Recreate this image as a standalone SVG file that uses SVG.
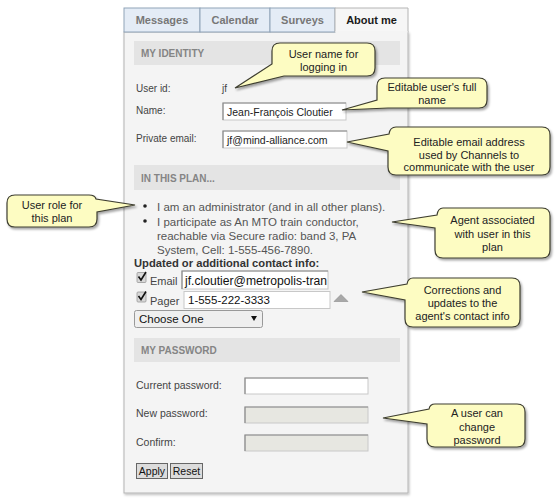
<svg xmlns="http://www.w3.org/2000/svg" width="555" height="500" viewBox="0 0 555 500">
<defs>
<filter id="sh" x="-10%" y="-10%" width="130%" height="140%">
<feDropShadow dx="1.5" dy="2" stdDeviation="1.2" flood-color="#000" flood-opacity="0.35"/>
</filter>
<filter id="psh" x="-5%" y="-5%" width="110%" height="110%">
<feDropShadow dx="1" dy="1.5" stdDeviation="1" flood-color="#000" flood-opacity="0.25"/>
</filter>
</defs>
<style>
text{font-family:"Liberation Sans",Arial,sans-serif}
.tab{fill:#e4ecf6;stroke:#8fa3b8;stroke-width:1}
.tabt{font-size:11px;font-weight:bold;fill:#777;text-anchor:middle}
.hdr{fill:#e4e4e4}
.hdrt{font-size:10px;font-weight:bold;fill:#858585}
.lbl{font-size:10px;fill:#444}
.val{font-size:10.5px;fill:#222}
.inp{fill:#fff;stroke:#c8c8c8;stroke-width:1}
.inpt{fill:none;stroke:#8a8a8a;stroke-width:1.2}
.dis{fill:#e7e7e1;stroke:#c8c8c8;stroke-width:1}
.bul{font-size:11.5px;fill:#555}
.co{fill:#fdfcc2;stroke:#3e3e30;stroke-width:1.2;filter:url(#sh)}
.cot{font-size:11px;fill:#222;text-anchor:middle}
.btn{fill:#dcdcdc;stroke:#666;stroke-width:1}
.btnt{font-size:10.5px;fill:#111;text-anchor:middle}
.chk{fill:#d8d8d8;stroke:#999;stroke-width:0.8}
</style>
<rect width="555" height="500" fill="#fff"/>

<g id="panel">
<rect x="124" y="32" width="284" height="461" fill="#f4f4f4" stroke="#b4b4b4" stroke-width="1" filter="url(#psh)"/>
<g id="tabs">
<rect class="tab" x="124" y="8" width="76" height="24"/>
<rect class="tab" x="200" y="8" width="70" height="24"/>
<rect class="tab" x="270" y="8" width="65" height="24"/>
<path d="M335,32 V8 H408 V32" fill="#f6f6f6" stroke="#b4b4b4" stroke-width="1"/>
<rect x="335.5" y="31" width="72" height="2" fill="#f4f4f4"/>
<text class="tabt" x="162" y="24">Messages</text>
<text class="tabt" x="235" y="24">Calendar</text>
<text class="tabt" x="302.5" y="24">Surveys</text>
<text class="tabt" x="371.5" y="24" style="fill:#1a1a1a">About me</text>
</g>

<g id="identity">
<rect class="hdr" x="134" y="41" width="266" height="24"/>
<text class="hdrt" x="141" y="57">MY IDENTITY</text>
<text class="lbl" x="136" y="92">User id:</text>
<text class="lbl" x="222" y="92">jf</text>
<text class="lbl" x="136" y="114">Name:</text>
<rect class="inp" x="223" y="103" width="123" height="17"/>
<path class="inpt" d="M223,120 V103 H346"/>
<text class="val" x="227" y="115.5">Jean-François Cloutier</text>
<text class="lbl" x="136" y="141.5">Private email:</text>
<rect class="inp" x="223" y="131" width="124" height="17"/>
<path class="inpt" d="M223,148 V131 H347"/>
<text class="val" x="227" y="143.5">jf@mind-alliance.com</text>
</g>

<g id="plan">
<rect class="hdr" x="134" y="165" width="266" height="25"/>
<text class="hdrt" x="141" y="182">IN THIS PLAN...</text>
<circle cx="145" cy="206" r="1.8" fill="#222"/>
<circle cx="145" cy="221" r="1.8" fill="#222"/>
<text class="bul" x="157" y="210.5">I am an administrator (and in all other plans).</text>
<text class="bul" x="157" y="225.5">I participate as An MTO train conductor,</text>
<text class="bul" x="157" y="239.5">reachable via Secure radio: band 3, PA</text>
<text class="bul" x="157" y="253.5">System, Cell: 1-555-456-7890.</text>
<text x="134" y="267" style="font-size:11.2px;font-weight:bold;fill:#333">Updated or additional contact info:</text>
<rect class="chk" x="137" y="272.5" width="9" height="10" rx="1"/>
<path d="M138.5,276.5 L141,280 L146,272" fill="none" stroke="#111" stroke-width="1.6"/>
<text class="lbl" x="150" y="284.5" style="font-size:11px">Email</text>
<rect class="inp" x="182" y="271" width="146" height="18"/>
<path class="inpt" d="M182,289 V271 H328"/>
<text x="185" y="285" textLength="142" lengthAdjust="spacingAndGlyphs" style="font-size:12px;fill:#111">jf.cloutier@metropolis-tran</text>
<rect class="chk" x="137" y="292" width="9" height="10" rx="1"/>
<path d="M138.5,296 L141,299.5 L146,291.5" fill="none" stroke="#111" stroke-width="1.6"/>
<text class="lbl" x="150" y="304.5" style="font-size:11px">Pager</text>
<rect class="inp" x="184" y="291.5" width="146" height="17"/>
<text x="188" y="304" style="font-size:11.5px;fill:#111">1-555-222-3333</text>
<path d="M334,301.5 L341,294.5 L348,301.5 Z" fill="#a8a8a8" stroke="#8a8a8a" stroke-width="0.6"/>
<rect x="134.5" y="310.5" width="128" height="17" rx="2" fill="#efefef" stroke="#999"/>
<text x="139" y="323" style="font-size:11.5px;fill:#111">Choose One</text>
<path d="M251,316 L257,316 L254,321 Z" fill="#111"/>
</g>

<g id="password">
<rect class="hdr" x="134" y="338" width="266" height="24"/>
<text class="hdrt" x="141" y="354">MY PASSWORD</text>
<text class="lbl" x="136" y="388.5" style="font-size:10.5px">Current password:</text>
<rect class="inp" x="245" y="378" width="123" height="16"/>
<path class="inpt" d="M245,394 V378 H368"/>
<text class="lbl" x="136" y="417" style="font-size:10.5px">New password:</text>
<rect class="dis" x="245" y="407" width="123" height="16"/>
<path class="inpt" d="M245,423 V407 H368"/>
<text class="lbl" x="136" y="445.5" style="font-size:10.5px">Confirm:</text>
<rect class="dis" x="245" y="435" width="123" height="16"/>
<path class="inpt" d="M245,451 V435 H368"/>
<rect class="btn" x="136.5" y="463.5" width="31" height="15"/>
<text class="btnt" x="152" y="474.5">Apply</text>
<rect class="btn" x="170.5" y="463.5" width="32" height="15"/>
<text class="btnt" x="186.5" y="474.5">Reset</text>
</g>
</g>

<g id="callout-username">
<path class="co" d="M280,43 H367 Q375,43 375,51 V68 Q375,76 367,76 H284 L235,88 L272,64 V51 Q272,43 280,43 Z"/>
<text class="cot" x="323.5" y="57.5">User name for</text>
<text class="cot" x="323.5" y="71">logging in</text>
</g>

<g id="callout-fullname">
<path class="co" d="M385,78 H479 Q487,78 487,86 V100 Q487,108 479,108 H388 L342,110 L377,100 V86 Q377,78 385,78 Z"/>
<text class="cot" x="432" y="90.5">Editable user's full</text>
<text class="cot" x="432" y="103.5">name</text>
</g>

<g id="callout-email">
<path class="co" d="M396,127 H542 Q550,127 550,135 V167 Q550,175 542,175 H396 Q388,175 388,167 V151 L347,142 L389,134 Q390,127 396,127 Z"/>
<text class="cot" x="469" y="146">Editable email address</text>
<text class="cot" x="469" y="158.5">used by Channels to</text>
<text class="cot" x="469" y="171">communicate with the user</text>
</g>

<g id="callout-role">
<path class="co" d="M15,195 H89 Q95,195 96,199 L135,205 L97,212 V219 Q97,227 89,227 H15 Q7,227 7,219 V203 Q7,195 15,195 Z"/>
<text class="cot" x="52" y="208.5">User role for</text>
<text class="cot" x="52" y="221.5">this plan</text>
</g>

<g id="callout-agent">
<path class="co" d="M443,208 H542 Q550,208 550,216 V250 Q550,258 542,258 H443 Q435,258 435,250 V228 L392,222 L437,215 Q438,208 443,208 Z"/>
<text class="cot" x="492.5" y="224">Agent associated</text>
<text class="cot" x="492.5" y="237.5">with user in this</text>
<text class="cot" x="492.5" y="251">plan</text>
</g>

<g id="callout-contact">
<path class="co" d="M413,278 H512 Q520,278 520,286 V319 Q520,327 512,327 H413 Q405,327 405,319 V300 L362,292 L407,284 Q408,278 413,278 Z"/>
<text class="cot" x="462.5" y="294">Corrections and</text>
<text class="cot" x="462.5" y="307">updates to the</text>
<text class="cot" x="462.5" y="320">agent's contact info</text>
</g>

<g id="callout-password">
<path class="co" d="M435,404 H517 Q525,404 525,412 V439 Q525,447 517,447 H435 Q427,447 427,439 V424 L383,418 L429,409 Q430,404 435,404 Z"/>
<text class="cot" x="477" y="417">A user can</text>
<text class="cot" x="477" y="430.5">change</text>
<text class="cot" x="477" y="443.5">password</text>
</g>
</svg>
